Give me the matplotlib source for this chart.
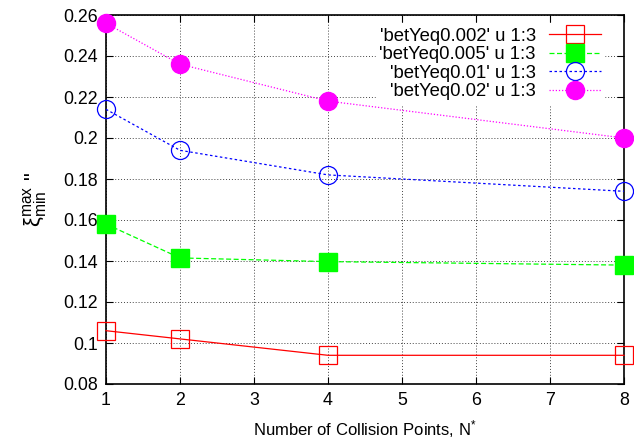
import matplotlib
matplotlib.use('Agg')
import matplotlib.pyplot as plt
from matplotlib.ticker import FuncFormatter

# collision points on the x axis
n_points = [1, 2, 4, 8]

# xi'' (max/min) for each beta_y run
xi_b0002 = [0.106, 0.102, 0.094, 0.094]
xi_b0005 = [0.158, 0.1415, 0.1397, 0.138]
xi_b001 = [0.214, 0.194, 0.182, 0.174]
xi_b002 = [0.256, 0.236, 0.218, 0.200]

labels = ["'betYeq0.002' u 1:3", "'betYeq0.005' u 1:3",
          "'betYeq0.01' u 1:3", "'betYeq0.02' u 1:3"]

x_ticks = [1, 2, 3, 4, 5, 6, 7, 8]
y_ticks = [0.08, 0.10, 0.12, 0.14, 0.16, 0.18, 0.20, 0.22, 0.24, 0.26]

plt.rcParams['font.family'] = ['Liberation Sans', 'DejaVu Sans']
plt.rcParams['mathtext.fontset'] = 'custom'
plt.rcParams['mathtext.rm'] = 'Liberation Sans'
plt.rcParams['mathtext.it'] = 'Liberation Sans'

fig = plt.figure(figsize=(6.34, 4.42), dpi=100, facecolor='white')
ax = fig.add_axes([106/634, 1 - 384/442, 518/634, 369/442])

ms = 13
ax.plot(n_points, xi_b0002, color='#ff0000', lw=0.9, ls='-',
        marker='s', ms=ms, mfc='none', mec='#ff0000', mew=0.9,
        clip_on=False, label=labels[0], zorder=3)
ax.plot(n_points, xi_b0005, color='#00ff00', lw=0.9, ls=(0, (4, 2)),
        marker='s', ms=ms, mfc='#00ff00', mec='#00ff00',
        clip_on=False, label=labels[1], zorder=3)
ax.plot(n_points, xi_b001, color='#0000ff', lw=0.9, ls=(0, (2, 2)),
        marker='o', ms=ms, mfc='none', mec='#0000ff', mew=0.9,
        clip_on=False, label=labels[2], zorder=3)
ax.plot(n_points, xi_b002, color='#ff00ff', lw=0.9, ls=(0, (1, 1.5)),
        marker='o', ms=ms, mfc='#ff00ff', mec='#ff00ff',
        clip_on=False, label=labels[3], zorder=3)

ax.set_xlim(1, 8)
ax.set_ylim(0.08, 0.26)
ax.set_xticks(x_ticks)
ax.set_yticks(y_ticks)
ax.yaxis.set_major_formatter(FuncFormatter(lambda v, p: '%g' % round(v, 3)))

ax.grid(True, color='#444444', ls=(0, (1, 2)), lw=0.7)
ax.tick_params(direction='in', top=True, right=True, length=5, width=0.8,
               labelsize=12.8, pad=6, colors='black')
for s in ax.spines.values():
    s.set_linewidth(1.2)

ax.set_xlabel(r'Number of Collision Points, N$^{*}$', fontsize=12, labelpad=6)
ax.set_ylabel(r'$\mathrm{\xi}^{\mathrm{max}}_{\mathrm{min}}$ "',
              fontsize=16, labelpad=10)

leg = ax.legend(loc='upper right', bbox_to_anchor=(0.969, 0.985),
                markerfirst=False, frameon=True, fancybox=False,
                facecolor='white', edgecolor='white', framealpha=1,
                fontsize=13.3, handlelength=2.8, handletextpad=0.7,
                labelspacing=0.08, borderpad=0.2, borderaxespad=0.2)
leg.set_zorder(4)

fig.savefig('out.png', dpi=100)
